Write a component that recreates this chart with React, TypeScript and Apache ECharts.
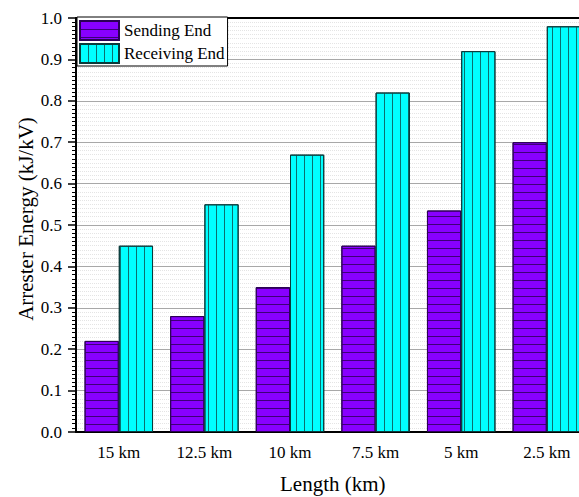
import React, { useEffect, useRef } from "react";
import * as echarts from "echarts";

const categories = ["15 km", "12.5 km", "10 km", "7.5 km", "5 km", "2.5 km"];
const sendingEnd = [0.22, 0.28, 0.35, 0.45, 0.535, 0.7];
const receivingEnd = [0.45, 0.55, 0.67, 0.82, 0.92, 0.98];
const seriesNames = ["Sending End", "Receiving End"];

export default function App() {
  const ref = useRef<HTMLDivElement>(null);
  useEffect(() => {
    if (!ref.current) return;
    const chart = echarts.init(ref.current, null, { renderer: "svg" });
    const font = "Liberation Serif";
    chart.setOption({
      animation: false,
      backgroundColor: "#ffffff",
      textStyle: { fontFamily: font },
      grid: { left: 76, width: 513.6, top: 18, bottom: 65, outerBoundsMode: "none", containLabel: false },
      legend: {
        left: 77,
        top: 17,
        orient: "vertical",
        itemWidth: 39,
        itemHeight: 19,
        itemGap: 2,
        padding: [3, 3, 2, 2],
        borderColor: "#000",
        borderWidth: 1,
        backgroundColor: "#fff",
        icon: "rect",
        textStyle: { fontFamily: font, fontSize: 17, color: "#000" },
        data: seriesNames,
      },
      xAxis: [
        {
          type: "category",
          data: categories,
          position: "bottom",
          axisLine: { lineStyle: { color: "#000", width: 2 } },
          axisTick: { alignWithLabel: true, length: 6, lineStyle: { color: "#000", width: 1.5 } },
          axisLabel: { fontFamily: font, fontSize: 17, color: "#000", margin: 12 },
          splitLine: { show: false },
          name: "Length (km)",
          nameLocation: "middle",
          nameGap: 41,
          nameMoveOverlap: false,
          nameTextStyle: { fontFamily: font, fontSize: 21, color: "#000" },
        },
        {
          type: "category",
          data: categories,
          position: "top",
          axisLine: { lineStyle: { color: "#000", width: 2 } },
          axisTick: { show: false },
          axisLabel: { show: false },
          splitLine: { show: false },
        },
      ],
      yAxis: {
        type: "value",
        min: 0,
        max: 1,
        interval: 0.1,
        axisLine: { show: true, lineStyle: { color: "#000", width: 2 } },
        axisTick: { show: true, length: 8, lineStyle: { color: "#000", width: 1.5 } },
        minorTick: { show: true, splitNumber: 10, length: 4, lineStyle: { color: "#000", width: 1 } },
        axisLabel: {
          fontFamily: font,
          fontSize: 17,
          color: "#000",
          margin: 14,
          formatter: (v: number) => v.toFixed(1),
        },
        splitLine: { show: true, lineStyle: { color: "#a8a8a8", width: 1 } },
        minorSplitLine: { show: true, lineStyle: { color: "#e4e4e4", width: 1, type: "dotted" } },
        name: "Arrester Energy (kJ/kV)",
        nameLocation: "middle",
        nameGap: 40,
        nameMoveOverlap: false,
        nameTextStyle: { fontFamily: font, fontSize: 21, color: "#000", padding: [0, 0, 0, 12] },
      },
      series: [
        {
          name: seriesNames[0],
          type: "bar",
          data: sendingEnd,
          barWidth: "40%",
          barGap: "0%",
          itemStyle: {
            color: "#8800ff",
            borderColor: "#2b0055",
            borderWidth: 1,
            decal: {
              symbol: "rect",
              symbolSize: 1,
              dashArrayX: [1, 0],
              dashArrayY: [1, 7],
              color: "#3d0078",
            },
          },
        },
        {
          name: seriesNames[1],
          type: "bar",
          data: receivingEnd,
          barWidth: "40%",
          barGap: "0%",
          itemStyle: {
            color: "#00ffff",
            borderColor: "#0a3a3a",
            borderWidth: 1,
            decal: {
              symbol: "rect",
              symbolSize: 1,
              dashArrayX: [1, 7],
              dashArrayY: [1, 0],
              color: "#0b6f6f",
            },
          },
        },
      ],
    });
    return () => chart.dispose();
  }, []);
  return (
    <div
      ref={ref}
      style={{ position: "absolute", left: 0, top: 0, width: 579, height: 497 }}
    />
  );
}
